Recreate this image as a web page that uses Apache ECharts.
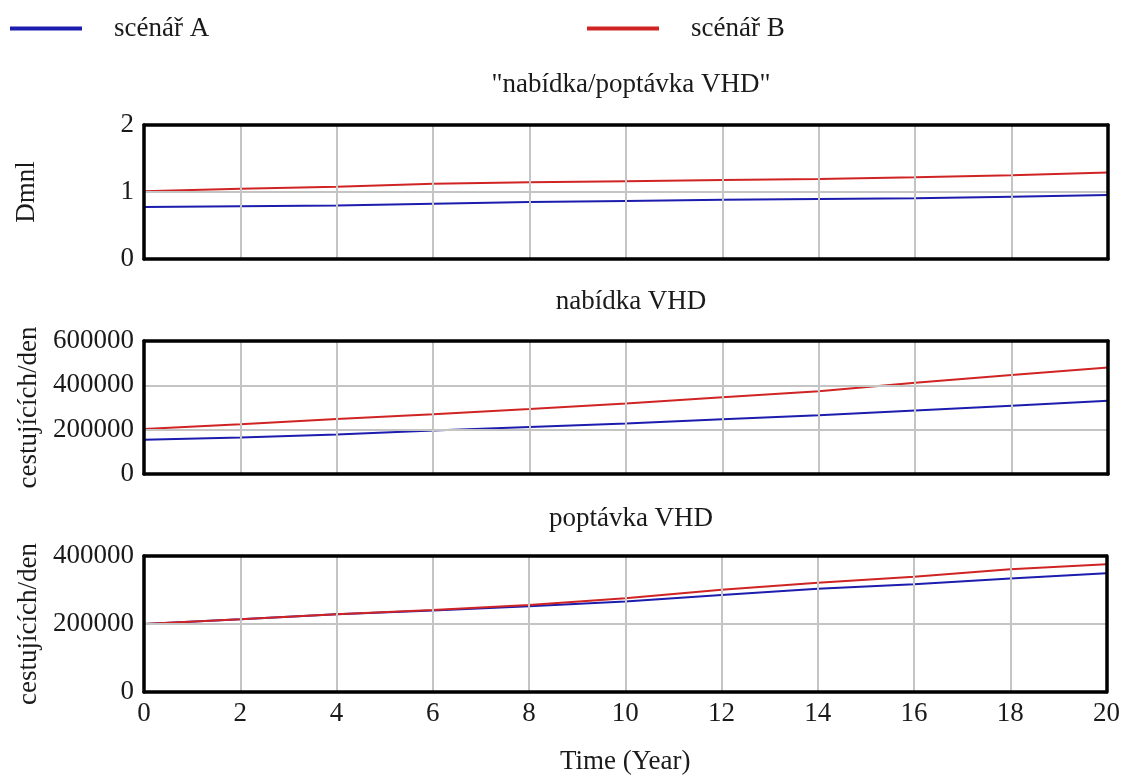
<!DOCTYPE html>
<html>
<head>
<meta charset="utf-8">
<script src="https://cdn.jsdelivr.net/npm/echarts@6/dist/echarts.min.js"></script>
<style>
  html, body { margin: 0; padding: 0; background: #fff; }
  #chart { width: 1123px; height: 778px; }
</style>
</head>
<body>
<div id="chart"></div>
<script>
// roky simulace
var years = [0, 2, 4, 6, 8, 10, 12, 14, 16, 18, 20];

// "nabídka/poptávka VHD" (Dmnl)
var pomerA = [0.776, 0.787, 0.80, 0.826, 0.85, 0.867, 0.883, 0.897, 0.908, 0.93, 0.955];
var pomerB = [1.01, 1.05, 1.078, 1.122, 1.144, 1.161, 1.178, 1.194, 1.22, 1.25, 1.29];

// nabídka VHD (cestujících/den)
var nabidkaA = [155000, 165000, 178000, 196000, 212000, 228000, 247000, 265000, 286000, 308000, 331000];
var nabidkaB = [203000, 224000, 248000, 270000, 293000, 318000, 346000, 373000, 412000, 447000, 481000];

// poptávka VHD (cestujících/den)
var poptavkaA = [200000, 214000, 229000, 240000, 252000, 266000, 285000, 304000, 317000, 334000, 349000];
var poptavkaB = [200000, 214000, 229000, 241000, 256000, 276000, 301000, 321000, 339000, 361000, 376000];

var titles = ['"nabídka/poptávka VHD"', 'nabídka VHD', 'poptávka VHD'];
var unitNames = ['Dmnl', 'cestujících/den', 'cestujících/den'];

var FONT = 'Liberation Serif';
var FS = 27;
var TXT = '#1a1a1a';
var BLUE = '#1c1cae';
var RED = '#d02424';
var GRIDC = '#c4c4c4';

function pairs(vals) {
    return years.map(function (y, i) { return [y, vals[i]]; });
}

var grids = [
    { left: 144, right: 15, top: 125, height: 134 },
    { left: 144, right: 15, top: 341, height: 133 },
    { left: 144, right: 15, top: 556, height: 136 }
];

var frame = { show: true, onZero: false, lineStyle: { color: '#000', width: 3.5 } };

var xAxes = [];
var yAxes = [];
var yMax = [2, 600000, 400000];
var yStep = [1, 200000, 200000];

[0, 1, 2].forEach(function (i) {
    xAxes.push({
        type: 'value',
        gridIndex: i,
        position: 'bottom',
        min: 0,
        max: 20,
        interval: 2,
        axisLine: frame,
        axisTick: { show: false },
        axisLabel: {
            show: i === 2,
            margin: 8,
            fontFamily: FONT,
            fontSize: FS,
            color: TXT
        },
        splitLine: { show: true, lineStyle: { color: GRIDC, width: 2 } },
        name: i === 2 ? 'Time (Year)' : '',
        nameLocation: 'middle',
        nameGap: 56,
        nameTextStyle: { fontFamily: FONT, fontSize: FS, color: TXT },
        z: 5
    });
    // horní okraj rámečku
    xAxes.push({
        type: 'value', gridIndex: i, position: 'top', min: 0, max: 20, interval: 2,
        axisLine: frame, axisTick: { show: false }, axisLabel: { show: false },
        splitLine: { show: false }, z: 5
    });
    yAxes.push({
        type: 'value',
        gridIndex: i,
        position: 'left',
        min: 0,
        max: yMax[i],
        interval: yStep[i],
        axisLine: frame,
        axisTick: { show: false },
        axisLabel: {
            margin: 10,
            fontFamily: FONT,
            fontSize: FS,
            color: TXT,
            formatter: function (v) { return String(v); }
        },
        splitLine: { show: true, lineStyle: { color: GRIDC, width: 2 } },
        name: unitNames[i],
        nameLocation: 'middle',
        nameGap: i === 0 ? 104 : 98,
        nameRotate: 90,
        nameTextStyle: { fontFamily: FONT, fontSize: FS, color: TXT },
        z: 5
    });
    // pravý okraj rámečku
    yAxes.push({
        type: 'value', gridIndex: i, position: 'right', min: 0, max: yMax[i], interval: yStep[i],
        axisLine: frame, axisTick: { show: false }, axisLabel: { show: false },
        splitLine: { show: false }, z: 5
    });
});

var titleY = [82, 299, 516];
var title = titles.map(function (t, i) {
    return {
        text: t,
        left: 626,
        top: titleY[i] - 16,
        textAlign: 'center',
        textStyle: { fontFamily: FONT, fontSize: FS, fontWeight: 'normal', color: TXT }
    };
});

function line(name, vals, idx, color) {
    return {
        name: name,
        type: 'line',
        xAxisIndex: idx * 2,
        yAxisIndex: idx * 2,
        data: pairs(vals),
        showSymbol: false,
        lineStyle: { color: color, width: 2 },
        itemStyle: { color: color },
        z: 3
    };
}

var legendBase = {
    top: 10,
    icon: 'rect',
    itemWidth: 72,
    itemHeight: 4,
    textStyle: { fontFamily: FONT, fontSize: FS, color: TXT, padding: [0, 0, 0, 27] }
};

var option = {
    animation: false,
    backgroundColor: '#fff',
    title: title,
    legend: [
        Object.assign({}, legendBase, { left: 5, data: ['scénář A'] }),
        Object.assign({}, legendBase, { left: 582, data: ['scénář B'] })
    ],
    grid: grids,
    xAxis: xAxes,
    yAxis: yAxes,
    series: [
        line('scénář A', pomerA, 0, BLUE),
        line('scénář B', pomerB, 0, RED),
        line('scénář A', nabidkaA, 1, BLUE),
        line('scénář B', nabidkaB, 1, RED),
        line('scénář A', poptavkaA, 2, BLUE),
        line('scénář B', poptavkaB, 2, RED)
    ]
};

var myChart = echarts.init(document.getElementById('chart'));
myChart.setOption(option);
</script>
</body>
</html>
